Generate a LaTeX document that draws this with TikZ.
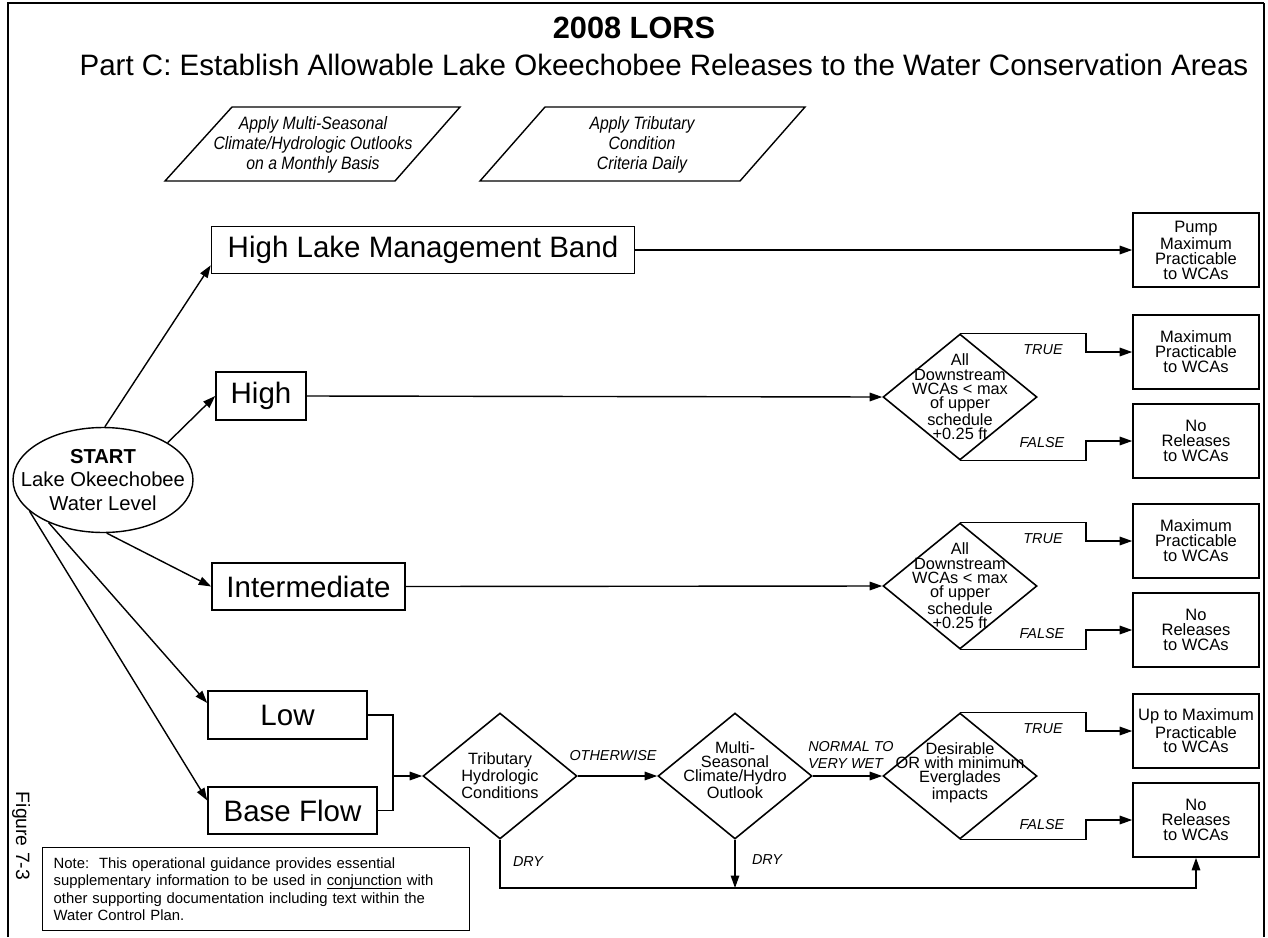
\documentclass[tikz,border=0pt]{standalone}
\usepackage{fontspec}
\setmainfont{Liberation Sans}
\newfontfamily\narrowsans[FakeStretch=0.88]{Liberation Sans}
\usetikzlibrary{shapes.geometric,arrows.meta,positioning}

\begin{document}
\begin{tikzpicture}[x=0.02cm,y=-0.02cm,
    level/.style={draw, line width=0.9pt, inner sep=0pt, font=\fontsize{16.8}{18}\selectfont},
    outcome/.style={draw, line width=0.9pt, minimum width=2.52cm, minimum height=1.48cm, inner sep=0pt, align=center, font=\fontsize{9.4}{8.5}\selectfont},
    decision/.style={draw, diamond, line width=0.9pt, minimum width=3.08cm, minimum height=2.52cm, inner sep=0pt},
    dtext/.style={align=center, inner sep=0pt, font=\fontsize{9.3}{8.1}\selectfont},
    branch/.style={inner sep=0pt, font=\fontsize{8.2}{9.5}\selectfont\itshape},
    guide/.style={inner sep=0pt, align=center, font=\narrowsans\fontsize{10.2}{11.3}\selectfont\itshape},
    flow/.style={-{Triangle[length=2.5mm,width=1.7mm]}, line width=0.8pt}]

    \useasboundingbox (0,0) rectangle (1268,937);

    % FRAME
    \draw[line width=1.7pt] (8,937) -- (8,3) -- (1264,3);
    \draw[line width=1pt] (1264,3) -- (1264,937);

    % TITLE
    \node (title) at (634,28) [font=\fontsize{17.5}{20}\selectfont\bfseries] {2008 LORS};
    \node (subtitle) at (664,65) [font=\fontsize{16.8}{20}\selectfont] {Part C: Establish Allowable Lake Okeechobee Releases to the Water Conservation Areas};

    % GUIDANCE
    \draw[line width=0.8pt] (232,107) -- (460,107) -- (395,181) -- (165,181) -- cycle;
    \node (outlook) at (313,145) [guide] {Apply Multi-Seasonal\\Climate/Hydrologic Outlooks\\on a Monthly Basis};
    \draw[line width=0.8pt] (545,107) -- (805,107) -- (740,181) -- (480,181) -- cycle;
    \node (tribcrit) at (642,145) [guide] {Apply Tributary\\Condition\\Criteria Daily};

    % START
    \node (start) at (103,480) [draw, ellipse, line width=0.8pt, minimum width=3.6cm, minimum height=2.1cm] {};
    \node (starttxt) at (start) [align=center, inner sep=0pt, font=\fontsize{11.5}{13.3}\selectfont] {\textbf{START}\\Lake Okeechobee\\Water Level};

    % LAKE LEVELS
    \node (hlmb) at (423,250) [level, minimum width=8.46cm, minimum height=0.94cm] {High Lake Management Band};
    \node (high) at (261,396) [level, minimum width=1.8cm, minimum height=0.96cm] {High};
    \node (inter) at (308.5,586.5) [level, minimum width=3.86cm, minimum height=0.94cm] {Intermediate};
    \node (low) at (287.5,715) [level, minimum width=3.18cm, minimum height=0.96cm] {Low};
    \node (base) at (292.5,810.5) [level, minimum width=3.38cm, minimum height=0.94cm] {Base Flow};

    % DECISIONS
    \node (d1) at (960,397) [decision] {};
    \node (d1txt) at (d1) [dtext] {All\\Downstream\\WCAs < max\\of upper\\schedule\\+0.25 ft};
    \node (d2) at (960,586) [decision] {};
    \node (d2txt) at (d2) [dtext] {All\\Downstream\\WCAs < max\\of upper\\schedule\\+0.25 ft};
    \node (trib) at (500,776) [decision] {};
    \node (tribtxt) at (trib) [dtext] {Tributary\\Hydrologic\\Conditions};
    \node (multi) at (735,776) [decision] {};
    \node (multitxt) at ([yshift=0.12cm]multi) [dtext] {Multi-\\Seasonal\\Climate/Hydro\\Outlook};
    \node (desir) at (960,776) [decision] {};
    \node (desirtxt) at ([yshift=0.06cm]desir) [dtext] {Desirable\\OR with minimum\\Everglades\\impacts};

    % OUTCOMES
    \node (pump) at (1196,250) [outcome] {Pump\\Maximum\\Practicable\\to WCAs};
    \node (maxA) at (1196,352) [outcome] {Maximum\\Practicable\\to WCAs};
    \node (noA) at (1196,441) [outcome] {No\\Releases\\to WCAs};
    \node (maxB) at (1196,541) [outcome] {Maximum\\Practicable\\to WCAs};
    \node (noB) at (1196,630) [outcome] {No\\Releases\\to WCAs};
    \node (upC) at (1196,731) [outcome] {Up to Maximum\\Practicable\\to WCAs};
    \node (noC) at (1196,820) [outcome] {No\\Releases\\to WCAs};

    % NOTE
    \node (note) at (42,847) [anchor=north west, draw, line width=0.8pt, minimum width=8.54cm, minimum height=1.66cm, inner xsep=0.22cm, text width=8.1cm, align=left, font=\fontsize{8.45}{9.9}\selectfont] {Note:\ \ This operational guidance provides essential\\supplementary information to be used in \underline{\smash{conjunction}} with\\other supporting documentation including text within the\\Water Control Plan.};
    \node (fig) at (21,836) [rotate=-90, font=\fontsize{11}{13}\selectfont] {Figure 7-3};

    % FROM START
    \draw[flow] (start.88) -- ([yshift=0.18cm]hlmb.south west);
    \draw[flow] (start.30) -- (high.west);
    \draw[flow] (start.274) -- (inter.west);
    \draw[flow] (start.218) -- ([yshift=0.24cm]low.west);
    \draw[flow] (start.203) -- ([yshift=0.2cm]base.west);

    % TO DECISIONS
    \draw[flow] (hlmb.east) -- (pump.west);
    \draw[flow] (high.east) -- (d1.west);
    \draw[flow] (inter.east) -- (d2.west);

    \coordinate (mrg) at (393,776);
    \draw[line width=0.8pt] (low.east) -| (mrg) |- (base.east);
    \draw[flow] (mrg) -- (trib.west);
    \draw[flow] (trib.east) -- (multi.west);
    \draw[flow] (multi.east) -- (desir.west);

    % TRUE / FALSE
    \coordinate (jog) at (1086,0);
    \draw[flow] (d1.north) -- (d1.north -| jog) |- (maxA.west);
    \draw[flow] (d1.south) -- (d1.south -| jog) |- (noA.west);
    \draw[flow] (d2.north) -- (d2.north -| jog) |- (maxB.west);
    \draw[flow] (d2.south) -- (d2.south -| jog) |- (noB.west);
    \draw[flow] (desir.north) -- (desir.north -| jog) |- (upC.west);
    \draw[flow] (desir.south) -- (desir.south -| jog) |- (noC.west);

    % DRY
    \coordinate (dry) at (0,888);
    \draw[flow] (trib.south) -- (trib.south |- dry) -| (noC.south);
    \draw[flow] (multi.south) -- (multi.south |- dry);

    % BRANCH LABELS
    \node (t1) at (1043,350) [branch] {TRUE};
    \node (f1) at (1042,443) [branch] {FALSE};
    \node (t2) at (1043,539) [branch] {TRUE};
    \node (f2) at (1042,634) [branch] {FALSE};
    \node (t3) at (1043,729) [branch] {TRUE};
    \node (f3) at (1042,825) [branch] {FALSE};
    \node (other) at (613,756) [branch] {OTHERWISE};
    \node (wet) at (851,755) [branch, align=left] {NORMAL TO\\VERY WET};
    \node (dry1) at (528,862) [branch] {DRY};
    \node (dry2) at (767,860) [branch] {DRY};

\end{tikzpicture}
\end{document}
